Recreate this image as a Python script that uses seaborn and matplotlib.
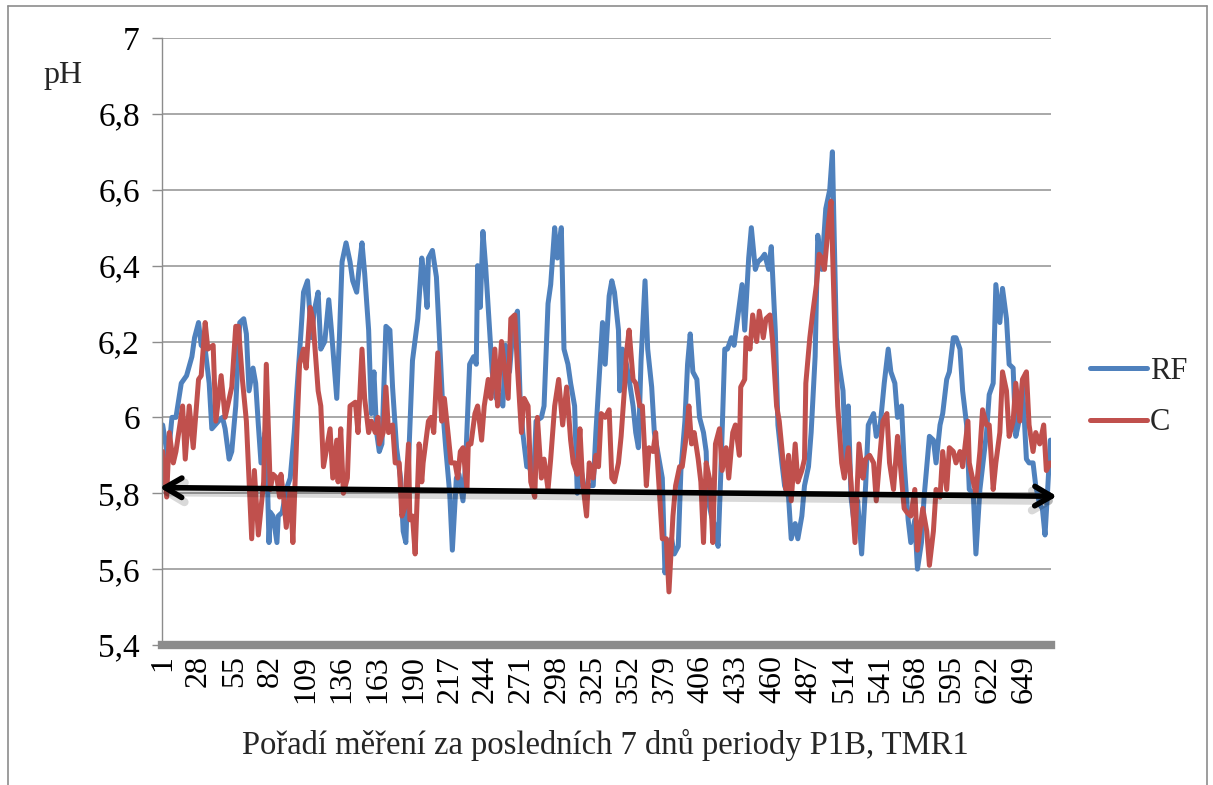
import matplotlib
matplotlib.use("Agg")
import matplotlib.pyplot as plt
from matplotlib.lines import Line2D
import pandas as pd
import seaborn as sns

# ---------------- data ----------------
series_names = ["RF", "C"]
n_points = 669
tick_step = 27
y_ticks = [5.4, 5.6, 5.8, 6.0, 6.2, 6.4, 6.6, 6.8, 7.0]

rf_idx = [1, 5, 8, 11, 15, 19, 23, 25, 28, 30, 33, 36, 38, 43, 46, 48, 51, 53, 56, 59,
          62, 64, 66, 69, 71, 73, 75, 78, 79, 81, 82, 84, 87, 88, 91, 94, 97, 100, 102, 105,
          107, 110, 113, 115, 118, 120, 123, 126, 128, 130, 132, 134, 136, 139, 142, 144, 147, 149, 151, 153,
          156, 158, 160, 162, 164, 166, 169, 172, 174, 177, 180, 182, 184, 186, 189, 193, 196, 198, 200, 201,
          204, 207, 209, 212, 214, 217, 219, 222, 224, 227, 229, 232, 235, 237, 238, 240, 242, 244, 247, 249,
          252, 254, 257, 259, 262, 265, 268, 270, 272, 275, 277, 280, 282, 286, 288, 291, 293, 296, 298, 301,
          303, 306, 308, 311, 313, 316, 318, 321, 325, 327, 332, 334, 337, 339, 341, 344, 345, 347, 350, 352,
          355, 357, 359, 361, 364, 366, 369, 371, 375, 377, 379, 381, 384, 386, 389, 391, 394, 396, 398, 400,
          403, 405, 408, 410, 411, 414, 416, 419, 421, 424, 426, 429, 431, 434, 437, 439, 442, 444, 447, 449,
          452, 454, 457, 459, 462, 464, 467, 469, 472, 474, 477, 479, 482, 484, 487, 489, 492, 494, 497, 500,
          503, 505, 508, 510, 513, 515, 517, 519, 522, 524, 527, 530, 532, 536, 538, 541, 544, 547, 549, 552,
          554, 557, 559, 562, 564, 567, 569, 572, 574, 578, 581, 583, 586, 588, 591, 593, 596, 598, 601, 603,
          606, 608, 611, 613, 616, 618, 621, 623, 626, 628, 631, 633, 636, 638, 641, 643, 646, 648, 651, 653,
          656, 658, 661, 663, 665, 667, 669]
rf_ph = [5.98, 5.89, 6.00, 6.00, 6.09, 6.11, 6.16, 6.21, 6.25, 6.19, 6.18, 6.09, 5.97, 5.99, 6.00, 5.97, 5.89, 5.91, 6.03, 6.25,
         6.26, 6.22, 6.07, 6.13, 6.09, 5.98, 5.88, 5.96, 5.95, 5.67, 5.75, 5.74, 5.67, 5.74, 5.75, 5.81, 5.84, 5.96, 6.07, 6.22,
         6.33, 6.36, 6.21, 6.28, 6.33, 6.18, 6.20, 6.31, 6.23, 6.14, 6.05, 6.21, 6.41, 6.46, 6.41, 6.36, 6.33, 6.40, 6.46, 6.38,
         6.23, 6.01, 6.12, 5.96, 5.91, 5.93, 6.24, 6.23, 6.08, 5.92, 5.84, 5.70, 5.67, 5.88, 6.15, 6.26, 6.42, 6.37, 6.29, 6.42,
         6.44, 6.37, 6.23, 6.01, 5.92, 5.80, 5.65, 5.84, 5.85, 5.78, 5.88, 6.14, 6.16, 6.14, 6.40, 6.29, 6.49, 6.40, 6.23, 6.12,
         6.05, 6.06, 6.03, 6.19, 6.12, 6.25, 6.28, 6.05, 5.96, 5.87, 5.87, 5.83, 5.99, 6.00, 6.03, 6.30, 6.35, 6.50, 6.42, 6.50,
         6.18, 6.14, 6.09, 6.03, 5.80, 5.86, 5.82, 5.82, 5.82, 5.96, 6.25, 6.14, 6.32, 6.36, 6.33, 6.23, 6.07, 6.18, 6.14, 6.10,
         6.03, 5.96, 5.92, 6.15, 6.36, 6.18, 6.08, 5.96, 5.88, 5.84, 5.59, 5.67, 5.68, 5.64, 5.66, 5.86, 5.99, 6.14, 6.22, 6.12,
         6.10, 6.00, 5.96, 5.91, 5.79, 5.74, 5.72, 5.66, 5.85, 6.18, 6.18, 6.21, 6.19, 6.27, 6.35, 6.23, 6.42, 6.50, 6.39, 6.41,
         6.42, 6.43, 6.39, 6.45, 6.23, 5.98, 5.88, 5.82, 5.79, 5.68, 5.72, 5.68, 5.74, 5.82, 5.87, 5.96, 6.16, 6.48, 6.39, 6.55,
         6.60, 6.70, 6.21, 6.14, 6.07, 5.88, 6.03, 5.79, 5.70, 5.78, 5.64, 5.82, 5.98, 6.01, 5.95, 5.98, 6.09, 6.18, 6.12, 6.09,
         6.00, 6.03, 5.88, 5.73, 5.67, 5.73, 5.60, 5.67, 5.79, 5.95, 5.94, 5.88, 5.98, 6.01, 6.10, 6.12, 6.21, 6.21, 6.18, 6.07,
         5.98, 5.81, 5.80, 5.64, 5.81, 5.87, 5.96, 6.06, 6.09, 6.35, 6.25, 6.34, 6.26, 6.14, 6.13, 5.95, 6.00, 6.09, 5.89, 5.88,
         5.88, 5.82, 5.77, 5.76, 5.69, 5.81, 5.94]

c_idx = [1, 4, 6, 9, 11, 16, 18, 21, 24, 28, 30, 33, 35, 39, 41, 45, 48, 53, 56, 58,
         61, 64, 68, 70, 73, 77, 79, 82, 84, 87, 89, 90, 92, 94, 97, 99, 102, 104, 107, 109,
         112, 114, 118, 120, 122, 124, 127, 129, 132, 133, 135, 137, 140, 142, 146, 148, 151, 153, 156, 158,
         161, 163, 164, 167, 169, 171, 174, 176, 179, 181, 183, 186, 187, 189, 191, 194, 196, 197, 201, 203,
         205, 208, 211, 213, 216, 218, 221, 223, 225, 227, 230, 231, 233, 236, 238, 241, 243, 246, 248, 251,
         253, 256, 258, 261, 263, 266, 268, 271, 273, 276, 278, 281, 283, 286, 288, 291, 293, 296, 299, 302,
         305, 308, 310, 313, 315, 317, 320, 322, 325, 327, 329, 331, 334, 337, 339, 341, 344, 346, 349, 350,
         352, 355, 357, 360, 362, 365, 367, 370, 372, 375, 377, 380, 382, 385, 387, 390, 392, 395, 397, 399,
         401, 404, 406, 408, 410, 413, 415, 417, 420, 422, 425, 427, 430, 432, 435, 436, 439, 440, 443, 445,
         448, 450, 453, 455, 458, 460, 463, 465, 468, 470, 472, 474, 477, 479, 482, 484, 485, 488, 490, 493,
         495, 497, 499, 502, 504, 507, 509, 512, 514, 517, 519, 522, 525, 528, 530, 533, 536, 538, 541, 543,
         546, 548, 551, 554, 556, 559, 561, 564, 567, 569, 573, 576, 578, 581, 583, 586, 588, 591, 593, 596,
         598, 601, 603, 607, 608, 611, 613, 616, 618, 621, 623, 626, 628, 631, 633, 636, 638, 641, 643, 646,
         648, 651, 653, 656, 658, 661, 664, 666, 669]
c_ph = [5.91, 5.79, 5.96, 5.88, 5.91, 6.03, 5.89, 6.03, 5.92, 6.10, 6.11, 6.25, 6.18, 6.19, 5.99, 6.11, 6.00, 6.08, 6.24, 6.24,
        6.10, 5.99, 5.68, 5.86, 5.69, 5.83, 6.14, 5.81, 5.85, 5.84, 5.79, 5.85, 5.79, 5.71, 5.81, 5.67, 5.96, 6.14, 6.18, 6.13,
        6.29, 6.26, 6.07, 6.03, 5.87, 5.91, 5.97, 5.84, 5.94, 5.83, 5.97, 5.80, 5.84, 6.03, 6.04, 5.96, 6.18, 6.05, 5.96, 5.99,
        5.96, 6.00, 5.93, 5.96, 6.08, 5.96, 5.98, 5.88, 5.88, 5.74, 5.76, 5.93, 5.73, 5.74, 5.64, 5.93, 5.83, 5.88, 5.99, 6.00,
        5.96, 6.17, 5.99, 6.05, 5.95, 5.88, 5.88, 5.84, 5.91, 5.92, 5.81, 5.93, 5.93, 6.01, 6.03, 5.94, 6.03, 6.10, 6.05, 6.18,
        6.03, 6.20, 6.14, 6.05, 6.26, 6.27, 6.13, 5.96, 6.05, 6.03, 5.83, 5.79, 6.00, 5.84, 5.89, 5.81, 5.89, 6.03, 6.10, 5.98,
        6.08, 5.94, 5.88, 5.85, 5.97, 5.83, 5.74, 5.88, 5.84, 5.90, 5.87, 6.01, 6.00, 6.02, 5.84, 5.83, 5.88, 5.95, 6.10, 6.17,
        6.23, 6.10, 6.09, 6.03, 6.03, 5.82, 5.92, 5.91, 5.96, 5.79, 5.68, 5.68, 5.54, 5.74, 5.82, 5.87, 5.87, 5.95, 6.03, 5.93,
        5.96, 5.89, 5.83, 5.67, 5.88, 5.83, 5.67, 5.93, 5.97, 5.86, 5.92, 5.84, 5.96, 5.98, 5.90, 6.08, 6.10, 6.21, 6.18, 6.27,
        6.20, 6.28, 6.21, 6.26, 6.27, 6.20, 6.03, 5.99, 5.88, 5.81, 5.90, 5.78, 5.93, 5.83, 5.86, 5.89, 6.09, 6.21, 6.27, 6.35,
        6.43, 6.42, 6.39, 6.51, 6.57, 6.21, 6.03, 5.88, 5.84, 5.92, 5.83, 5.67, 5.93, 5.84, 5.89, 5.90, 5.88, 5.78, 5.91, 5.99,
        6.01, 5.88, 5.81, 5.95, 5.88, 5.76, 5.75, 5.74, 5.81, 5.65, 5.76, 5.70, 5.61, 5.70, 5.81, 5.79, 5.91, 5.81, 5.92, 5.91,
        5.88, 5.91, 5.87, 5.99, 5.88, 5.83, 5.80, 5.91, 6.02, 5.98, 5.98, 5.81, 5.88, 5.96, 6.12, 6.07, 5.95, 5.99, 6.09, 5.99,
        6.10, 6.12, 5.98, 5.91, 5.96, 5.93, 5.98, 5.86, 5.88]

# ---------------- styling ----------------
W, H = 1213, 785
blue = "#4F81BD"
red = "#C0504D"
grey = "#8c8c8c"

sns.set_theme(style="white")
plt.rcParams['font.family'] = ['Liberation Serif', 'DejaVu Serif']

fig = plt.figure(figsize=(W / 100, H / 100), dpi=100)
ax = fig.add_axes([162 / W, 1 - 645 / H, (1051 - 162) / W, (645 - 38) / H])

df_rf = pd.DataFrame({"idx": rf_idx, "ph": rf_ph})
df_c = pd.DataFrame({"idx": c_idx, "ph": c_ph})

sns.lineplot(data=df_rf, x="idx", y="ph", color=blue, lw=4.3, estimator=None, ax=ax,
             label=series_names[0], solid_capstyle="round", solid_joinstyle="round")
sns.lineplot(data=df_c, x="idx", y="ph", color=red, lw=4.3, estimator=None, ax=ax,
             label=series_names[1], solid_capstyle="round", solid_joinstyle="round")

ax.set_xlim(0.5, n_points + 0.5)
ax.set_ylim(y_ticks[0], y_ticks[-1])
ax.set_yticks(y_ticks)
ax.set_yticklabels([f"{v:g}".replace(".", ",") for v in y_ticks])
xt = list(range(1, n_points + 1, tick_step))
ax.set_xticks(xt)
ax.set_xticklabels([str(t) for t in xt], rotation=90)

ax.set_xlabel("")
ax.set_ylabel("")
ax.yaxis.grid(True, color="#9a9a9a", lw=1.2)
ax.xaxis.grid(False)
ax.set_axisbelow(True)

for s in ["top", "right"]:
    ax.spines[s].set_visible(False)
ax.spines["left"].set_color(grey)
ax.spines["left"].set_linewidth(1.0)
ax.spines["bottom"].set_color(grey)
ax.spines["bottom"].set_linewidth(6)

ax.tick_params(axis="y", direction="out", length=7, width=1, color=grey, pad=9,
               labelsize=24, labelcolor="black", left=True)
ax.tick_params(axis="x", length=0, pad=7, labelsize=23, labelcolor="black")

# legend
handles, labels = ax.get_legend_handles_labels()
for h in handles:
    h.set_linewidth(3.6)
ax.legend(handles, labels, loc="center left",
          bbox_to_anchor=(1090 / W, 1 - 397 / H), bbox_transform=fig.transFigure,
          frameon=False, fontsize=22, handlelength=1.85, handletextpad=0.12,
          labelspacing=0.75, borderpad=0, borderaxespad=0)

# black double arrow (with soft shadow)
ax.annotate("", xy=(674, 5.780), xytext=(-1.3, 5.803),
            arrowprops=dict(arrowstyle="<->,head_length=0.6,head_width=0.35", lw=6,
                            color="black", alpha=0.15, mutation_scale=20,
                            shrinkA=0, shrinkB=0),
            annotation_clip=False)
ax.annotate("", xy=(674, 5.792), xytext=(-1.3, 5.815),
            arrowprops=dict(arrowstyle="<->,head_length=0.6,head_width=0.35", lw=4,
                            color="black", mutation_scale=20, shrinkA=0, shrinkB=0),
            annotation_clip=False)

# texts
fig.text(605 / W, 1 - 745 / H, "Pořadí měření za posledních 7 dnů periody P1B, TMR1",
         ha="center", va="center", fontsize=23.5)
fig.text(63 / W, 1 - 76 / H, "pH", ha="center", va="center", fontsize=23)

# outer frame of the chart object
for xs, ys in [([8, 1207], [6, 6]), ([8, 8], [6, 785]), ([1207, 1207], [6, 785])]:
    fig.add_artist(Line2D([x / W for x in xs], [1 - y / H for y in ys],
                          transform=fig.transFigure, color=grey, lw=1.2))

fig.savefig("out.png", dpi=100)
